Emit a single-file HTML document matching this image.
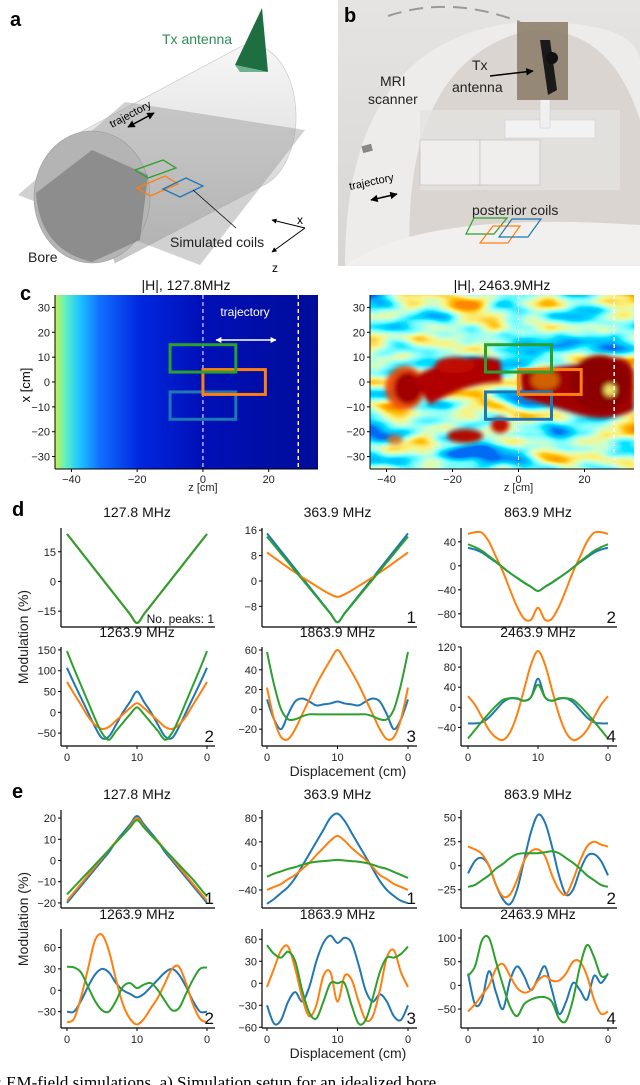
<!DOCTYPE html>
<html><head><meta charset="utf-8">
<style>
html,body{margin:0;padding:0;background:#fff;}
svg{display:block;font-family:"Liberation Sans",sans-serif;}
.tk{font-size:11px;fill:#222;}
.tt{font-size:14px;fill:#111;}
</style></head>
<body>
<svg id="fig" width="640" height="1085" viewBox="0 0 640 1085">
<defs>
  <linearGradient id="lowf" x1="0" y1="0" x2="1" y2="0">
    <stop offset="0" stop-color="#c8f050"/>
    <stop offset="0.04" stop-color="#60f0c0"/>
    <stop offset="0.09" stop-color="#20c8ff"/>
    <stop offset="0.17" stop-color="#1070ff"/>
    <stop offset="0.32" stop-color="#0028e0"/>
    <stop offset="0.55" stop-color="#0010b8"/>
    <stop offset="1" stop-color="#000c98"/>
  </linearGradient>
  <filter id="jet" x="0" y="0" width="100%" height="100%">
    <feTurbulence type="fractalNoise" baseFrequency="0.018 0.045" numOctaves="2" seed="11" result="n"/>
    <feColorMatrix in="n" type="matrix" values="1.8 0 0 0 -0.42  1.8 0 0 0 -0.42  1.8 0 0 0 -0.42  0 0 0 0 1"/>
    <feComponentTransfer>
      <feFuncR type="table" tableValues="0 0 0 0.2 0.6 0.95 1 1"/>
      <feFuncG type="table" tableValues="0.15 0.45 0.8 1 1 0.9 0.55 0.25"/>
      <feFuncB type="table" tableValues="0.9 1 1 1 0.6 0.2 0 0"/>
    </feComponentTransfer>
  </filter>
  <filter id="blur2"><feGaussianBlur stdDeviation="2.5"/></filter>
  <linearGradient id="cyl" x1="0" y1="0" x2="0" y2="1">
    <stop offset="0" stop-color="#f6f6f6"/><stop offset="0.5" stop-color="#e2e2e2"/><stop offset="1" stop-color="#c4c4c4"/>
  </linearGradient>
  <linearGradient id="photo" x1="0" y1="0" x2="0" y2="1">
    <stop offset="0" stop-color="#e6e4e2"/><stop offset="1" stop-color="#d8d6d4"/>
  </linearGradient>
  <marker id="ah" viewBox="0 0 10 10" refX="9" refY="5" markerWidth="5" markerHeight="5" orient="auto-start-reverse"><path d="M0,0 L10,5 L0,10 z" fill="#000"/></marker>
  <marker id="ahw" viewBox="0 0 10 10" refX="9" refY="5" markerWidth="4" markerHeight="4" orient="auto-start-reverse"><path d="M0,0 L10,5 L0,10 z" fill="#fff"/></marker>
  <clipPath id="clipR"><rect x="370" y="295" width="264" height="174"/></clipPath>
</defs>

<!-- Panel a -->
<g>
  <text x="10" y="26" font-size="20" font-weight="bold">a</text>
  <ellipse cx="247" cy="117" rx="44" ry="70" fill="#ececec" stroke="#ccc" stroke-width="0.6"/>
  <path d="M75,135 L240,47 A44,70 0 0 1 262,186 L115,263 Z" fill="url(#cyl)" stroke="#c4c4c4" stroke-width="0.6"/>
  <polygon points="18,195 125,102 305,130 200,265" fill="#9a9a9a" opacity="0.45"/>
  <ellipse cx="92" cy="197" rx="58" ry="66" fill="#b4b4b4" stroke="#999" stroke-width="0.6"/>
  <path d="M36,193 L92,150 L148,175 L140,240 L92,262 Q40,250 36,193 Z" fill="#6e6e6e" opacity="0.55"/>
  <polygon points="135,170 163,160 176,168 148,178" fill="none" stroke="#2ca02c" stroke-width="1.3"/>
  <polygon points="137,188 165,176 178,184 150,196" fill="none" stroke="#ff7f0e" stroke-width="1.3"/>
  <polygon points="163,189 186,178 203,186 180,197" fill="none" stroke="#1f77b4" stroke-width="1.3"/>
  <line x1="193" y1="190" x2="236" y2="228" stroke="#000" stroke-width="0.8"/>
  <polygon points="235,65 262,8 268,72" fill="#1f6e42"/>
  <polygon points="235,65 240,72 268,72" fill="#6fb28f"/>
  <text x="162" y="44" font-size="14" fill="#2e8b57">Tx antenna</text>
  <text x="0" y="0" font-size="11" transform="translate(112,128) rotate(-28)">trajectory</text>
  <line x1="128" y1="127" x2="154" y2="113" stroke="#000" stroke-width="1.5" marker-start="url(#ah)" marker-end="url(#ah)"/>
  <text x="170" y="247" font-size="14" fill="#222">Simulated coils</text>
  <text x="28" y="262" font-size="14" fill="#222">Bore</text>
  <line x1="305" y1="228" x2="272" y2="220" stroke="#000" stroke-width="1" marker-end="url(#ah)"/>
  <line x1="305" y1="228" x2="272" y2="252" stroke="#000" stroke-width="1" marker-end="url(#ah)"/>
  <text x="297" y="224" font-size="12">x</text>
  <text x="272" y="272" font-size="12">z</text>
</g>

<!-- Panel b -->
<g>
  <rect x="338" y="0" width="302" height="266" fill="url(#photo)"/>
  <path d="M345,266 Q345,40 520,22 Q635,20 640,60 L640,266 Z" fill="#eeecea"/>
  <path d="M410,266 Q400,60 530,30 Q610,25 640,120 L640,266 Z" fill="#d2ccc4" opacity="0.7"/>
  <path d="M420,110 L620,110 L620,190 L420,190 Z" fill="#e4e2df" opacity="0.8"/>
  <rect x="420" y="140" width="60" height="45" fill="#efeeec" stroke="#bbb" stroke-width="0.6"/>
  <rect x="480" y="140" width="60" height="45" fill="#efeeec" stroke="#bbb" stroke-width="0.6"/>
  <rect x="505" y="120" width="90" height="18" fill="#f2f2f2" stroke="#ccc" stroke-width="0.5"/>
  <rect x="540" y="98" width="10" height="30" fill="#f0f0f0" stroke="#ccc" stroke-width="0.5"/>
  <rect x="517" y="22" width="51" height="78" fill="#8a7a66" opacity="0.85"/>
  <polygon points="540,40 550,40 557,90 548,95" fill="#1a1a1a"/>
  <circle cx="552" cy="58" r="6" fill="#111"/>
  <path d="M345,266 Q420,210 640,225 L640,266 Z" fill="#f1f0ee"/>
  <path d="M388,16 Q450,-5 520,22" stroke="#999" stroke-width="2" fill="none" stroke-dasharray="14 8"/>
  <rect x="362" y="145" width="10" height="7" fill="#888" transform="rotate(-15 367 148)"/>
  <text x="344" y="22" font-size="20" font-weight="bold">b</text>
  <text x="380" y="86" font-size="14" fill="#222">MRI</text>
  <text x="368" y="104" font-size="14" fill="#222">scanner</text>
  <text x="472" y="70" font-size="14" fill="#222">Tx</text>
  <text x="452" y="92" font-size="14" fill="#222">antenna</text>
  <line x1="490" y1="76" x2="533" y2="71" stroke="#000" stroke-width="1.5" marker-end="url(#ah)"/>
  <text x="0" y="0" font-size="11" transform="translate(350,190) rotate(-12)">trajectory</text>
  <line x1="371" y1="200" x2="397" y2="194" stroke="#000" stroke-width="1.5" marker-start="url(#ah)" marker-end="url(#ah)"/>
  <text x="472" y="215" font-size="14" fill="#222">posterior coils</text>
  <polygon points="474,218 507,218 494,234 466,234" fill="none" stroke="#2ca02c" stroke-width="1.2"/>
  <polygon points="493,226 520,226 508,243 480,243" fill="none" stroke="#ff7f0e" stroke-width="1.2"/>
  <polygon points="512,219 541,219 528,237 499,237" fill="none" stroke="#1f77b4" stroke-width="1.2"/>
</g>

<!-- Panel c -->
<g>
  <text x="20" y="300" font-size="20" font-weight="bold">c</text>
  <text x="186" y="290" text-anchor="middle" class="tt">|H|, 127.8MHz</text>
  <text x="502" y="290" text-anchor="middle" class="tt">|H|, 2463.9MHz</text>
  <rect x="55" y="295" width="263" height="174" fill="url(#lowf)"/>
  <g clip-path="url(#clipR)">
    <rect x="370" y="295" width="264" height="174" filter="url(#jet)"/>
    <g filter="url(#blur2)">
      <ellipse cx="405" cy="388" rx="20" ry="22" fill="#f04000" opacity="0.9"/>
      <ellipse cx="408" cy="388" rx="14" ry="16" fill="#a00000"/>
      <path d="M412,378 Q460,350 500,360 L502,382 Q465,383 430,405 Z" fill="#b00000"/>
      <ellipse cx="455" cy="365" rx="20" ry="8" fill="#c01000"/>
      <path d="M520,372 L595,362 Q628,350 634,372 L634,410 Q605,425 570,412 L522,398 Z" fill="#a00000"/>
      <ellipse cx="600" cy="383" rx="30" ry="28" fill="#8c0000"/>
      <ellipse cx="610" cy="390" rx="6" ry="6" fill="#f0e060"/>
      <ellipse cx="545" cy="380" rx="14" ry="10" fill="#f0a000" opacity="0.6"/>
      <ellipse cx="465" cy="436" rx="18" ry="7" fill="#b00800"/>
      <ellipse cx="500" cy="425" rx="9" ry="8" fill="#c01000"/>
      <ellipse cx="395" cy="440" rx="8" ry="5" fill="#f06000" opacity="0.8"/>
    </g>
  </g>
  <g id="caxes"></g>
</g>

<g id="charts"></g>
</svg>

<script>
// ---------- panel c data ----------
const heatZTicks = [-40, -20, 0, 20];
const heatXTicks = [30, 20, 10, 0, -10, -20, -30];
const coilNames = ['blue', 'orange', 'green'];
const coilZ0 = [-10, 0, -10];
const coilZ1 = [10, 19, 10];
const coilX0 = [-15, -5, 4];
const coilX1 = [-4, 5, 15];
const dashZ = [0, 29];

// ---------- panel d / e data (x = 0..20 cm) ----------
const xs = [0,1,2,3,4,5,6,7,8,9,10,11,12,13,14,15,16,17,18,19,20];
const freqTitles = ['127.8 MHz','363.9 MHz','863.9 MHz','1263.9 MHz','1863.9 MHz','2463.9 MHz'];
const xTickVals = [0, 10, 20];
const xTickLabels = ['0', '10', '0'];
const peaksD = ['No. peaks: 1','1','2','2','3','4'];
const peaksE = ['1','1','2','2','3','4'];

const dTicks = [[15,0,-15],[16,8,0,-8],[40,0,-40,-80],[150,100,50,0,-50],[60,40,20,0,-20],[120,80,40,0,-40]];
const dDomains = [[-23,27],[-14.5,16.7],[-102,63],[-81,157],[-37,63],[-77,120]];
const dBlue = [
 [24,19.5,15,10.5,6,1.5,-3,-7.5,-12,-16.5,-21,-16.5,-12,-7.5,-3,1.5,6,10.5,15,19.5,24],
 [15,12.2,9.4,6.6,3.8,1,-1.8,-4.6,-7.4,-10.2,-13,-10.2,-7.4,-4.6,-1.8,1,3.8,6.6,9.4,12.2,15],
 [30,27,22,14,6,-3,-12,-20,-28,-35,-42,-35,-28,-20,-12,-3,6,14,22,27,30],
 [107,70,35,0,-35,-62,-58,-30,0,25,50,25,0,-30,-58,-62,-35,0,35,70,107],
 [10,-10,-20,-5,8,11,8,4,5,6,8,6,5,4,8,11,8,-5,-20,-10,10],
 [-32,-32,-30,-20,-5,10,18,17,13,20,57,20,13,17,18,10,-5,-20,-30,-32,-32]
];
const dOrange = [
 [24,19.5,15,10.5,6,1.5,-3,-7.5,-12,-16.5,-21,-16.5,-12,-7.5,-3,1.5,6,10.5,15,19.5,24],
 [9,7.4,5.8,4.2,2.7,1.2,-0.2,-1.6,-3,-4.2,-5,-4.2,-3,-1.6,-0.2,1.2,2.7,4.2,5.8,7.4,9],
 [53,56,55,40,15,-10,-40,-68,-88,-90,-70,-90,-88,-68,-40,-10,15,40,55,56,53],
 [73,45,18,-10,-30,-40,-35,-20,-5,10,22,10,-5,-20,-35,-40,-30,-10,18,45,73],
 [22,-10,-28,-30,-20,-5,10,25,38,50,60,50,38,25,10,-5,-20,-30,-28,-10,22],
 [22,5,-20,-45,-60,-65,-50,-15,35,85,112,85,35,-15,-50,-65,-60,-45,-20,5,22]
];
const dGreen = [
 [24,19.5,15,10.5,6,1.5,-3,-7.5,-12,-16.5,-21,-16.5,-12,-7.5,-3,1.5,6,10.5,15,19.5,24],
 [14,11.3,8.6,5.9,3.2,0.5,-2.2,-4.9,-7.6,-10.3,-13,-10.3,-7.6,-4.9,-2.2,0.5,3.2,5.9,8.6,11.3,14],
 [36,31,25,16,7,-3,-12,-20,-28,-35,-42,-35,-28,-20,-12,-3,7,16,25,31,36],
 [147,105,65,25,-15,-50,-66,-45,-25,-5,12,-5,-25,-45,-66,-50,-15,25,65,105,147],
 [58,25,0,-10,-10,-7,-5,-5,-5,-5,-5,-5,-5,-5,-5,-7,-10,-10,0,25,58],
 [-62,-45,-28,-12,3,15,18,18,13,20,45,20,13,18,18,15,3,-12,-28,-45,-62]
];

const eTicks = [[20,10,0,-10,-20],[80,40,0,-40],[50,25,0,-25],[60,30,0,-30],[60,30,0,-30,-60],[100,50,0,-50]];
const eDomains = [[-22.4,23.8],[-70,93],[-44,58],[-53,86],[-61,74],[-90,119]];
const eBlue = [
 [-20,-16,-12,-8,-4,0,4,9,13,17,21,17,13,9,4,0,-4,-8,-12,-16,-20],
 [-63,-55,-45,-35,-20,0,20,40,60,80,87,75,55,35,15,-5,-25,-40,-50,-58,-62],
 [-8,5,8,0,-20,-35,-40,-25,5,35,53,45,20,-10,-30,-25,-5,10,12,5,-10],
 [-30,-30,-15,5,22,30,25,10,0,-5,-10,-5,5,15,25,30,22,5,-15,-30,-30],
 [-30,-55,-50,-25,-12,-25,-5,30,55,65,55,62,55,25,-10,-25,-15,-25,-45,-50,-30],
 [25,-40,-30,30,-15,-50,10,40,20,-10,15,40,-10,-60,-35,5,-10,-30,20,5,25]
];
const eOrange = [
 [-19,-15,-11,-7,-3,1,5,9,12,16,20,16,12,9,5,1,-3,-7,-11,-15,-19],
 [-40,-35,-30,-22,-15,-5,5,18,30,42,50,42,30,20,10,-2,-15,-22,-30,-35,-40],
 [20,17,12,0,-20,-32,-30,-15,5,15,17,10,-10,-25,-30,-15,5,20,25,22,20],
 [-45,-40,-10,30,70,78,55,15,-20,-40,-48,-40,-25,-10,10,30,33,10,-20,-40,-45],
 [-5,20,45,50,20,-20,-45,-30,10,15,-25,10,5,-25,-50,-45,-10,35,45,15,-5],
 [-55,-40,-20,0,35,45,20,-5,-15,-10,10,20,10,10,25,50,50,20,-30,-60,-55]
];
const eGreen = [
 [-16,-12.5,-9,-5.5,-2,1.5,5,8.5,12,15.5,19,15.5,12,8.5,5,1.5,-2,-5.5,-9,-13,-17],
 [-18,-13,-9,-5,-2,2,5,7,8,9,10,9,8,7,5,2,-2,-5,-10,-15,-20],
 [-22,-20,-15,-10,-3,2,8,12,13,13,13,14,15,13,8,3,-3,-10,-15,-20,-22],
 [33,32,25,5,-15,-28,-30,-15,5,10,3,8,10,0,-15,-28,-25,-5,15,30,32],
 [52,40,35,43,30,-10,-40,-48,-25,0,0,0,-30,-55,-50,-20,15,35,35,40,50],
 [20,40,95,100,50,0,-45,-65,-40,-30,-25,-25,-35,-70,-75,-30,40,85,60,20,22]
];

const NS = 'http://www.w3.org/2000/svg';
const COLORS = {blue:'#1f77b4', orange:'#ff7f0e', green:'#2ca02c'};
function mk(tag, attrs, parent) {
  const el = document.createElementNS(NS, tag);
  for (const k in attrs) el.setAttribute(k, attrs[k]);
  parent.appendChild(el);
  return el;
}

// ---------- panel c axes ----------
(function(){
  const g = document.getElementById('caxes');
  const maps = [{x0:55,x1:318,name:'left'},{x0:370,x1:634,name:'right'}];
  const zDom=[-45,35], xDom=[-35,35], top=295, bot=469;
  maps.forEach(m => {
    const zx = z => m.x0 + (z - zDom[0]) / (zDom[1]-zDom[0]) * (m.x1 - m.x0);
    const xy = x => bot - (x - xDom[0]) / (xDom[1]-xDom[0]) * (bot - top);
    dashZ.forEach((z,i) => {
      const l = mk('line', {x1:zx(z), x2:zx(z), y1:top, y2:bot, stroke:'#fff', 'stroke-width': i===0?1:1.4, 'stroke-dasharray':'4 3'}, g);
      
      
    });
    coilNames.forEach((c,i) => {
      const r = mk('rect', {x:zx(coilZ0[i]), y:xy(coilX1[i]), width:zx(coilZ1[i])-zx(coilZ0[i]), height:xy(coilX0[i])-xy(coilX1[i]), fill:'none', stroke:COLORS[c], 'stroke-width':3}, g);
      
      
    });
    mk('line',{x1:m.x0,x2:m.x1,y1:bot,y2:bot,stroke:'#000','stroke-width':1},g);
    mk('line',{x1:m.x0,x2:m.x0,y1:top,y2:bot,stroke:'#000','stroke-width':1},g);
    heatZTicks.forEach(z => {
      mk('line',{x1:zx(z),x2:zx(z),y1:bot,y2:bot+3,stroke:'#000'},g);
      const t = mk('text',{x:zx(z),y:bot+14,'text-anchor':'middle',class:'tk'},g);
      t.textContent = z < 0 ? '\u2212' + (-z) : String(z);
      
      
    });
    heatXTicks.forEach(x => {
      mk('line',{x1:m.x0-3,x2:m.x0,y1:xy(x),y2:xy(x),stroke:'#000'},g);
      const t = mk('text',{x:m.x0-5,y:xy(x)+4,'text-anchor':'end',class:'tk'},g);
      t.textContent = x < 0 ? '\u2212' + (-x) : String(x);
      
      
    });
    const zl = mk('text',{x:zx(0),y:bot+22,'text-anchor':'middle',class:'tk','font-size':12},g);
    zl.textContent = 'z [cm]';
    
    
  });
  const yl = mk('text',{x:0,y:0,transform:'translate(30,385) rotate(-90)','text-anchor':'middle','font-size':13},g);
  yl.textContent = 'x [cm]';
  
  
  const tr = mk('text',{x:245,y:316,'text-anchor':'middle','font-size':12,fill:'#fff'},g);
  tr.textContent = 'trajectory';
  
  
  const ar = mk('line',{x1:216,x2:276,y1:340,y2:340,stroke:'#fff','stroke-width':1.5,'marker-start':'url(#ahw)','marker-end':'url(#ahw)'},g);
  
  
})();

// ---------- panels d, e ----------
function smoothPath(pts){
  let d = 'M' + pts[0][0].toFixed(2) + ',' + pts[0][1].toFixed(2);
  for (let i=0;i<pts.length-1;i++){
    const p0 = pts[Math.max(0,i-1)], p1 = pts[i], p2 = pts[i+1], p3 = pts[Math.min(pts.length-1,i+2)];
    const c1x = p1[0] + (p2[0]-p0[0])/6, c1y = p1[1] + (p2[1]-p0[1])/6;
    const c2x = p2[0] - (p3[0]-p1[0])/6, c2y = p2[1] - (p3[1]-p1[1])/6;
    d += 'C' + c1x.toFixed(2)+','+c1y.toFixed(2)+' '+c2x.toFixed(2)+','+c2y.toFixed(2)+' '+p2[0].toFixed(2)+','+p2[1].toFixed(2);
  }
  return d;
}
const colLeft = [61, 262, 461];
const colX0 = [67, 267, 468];
const colX1 = [207, 408, 608];
const colRight = [215, 417, 617];

function drawGrid(prefix, rows, ticks, domains, blue, orange, green, peaks, tickY, dispY) {
  const root = document.getElementById('charts');
  const grp = mk('g', {}, root);
  
  
  for (let k=0;k<6;k++){
    const r = Math.floor(k/3), c = k%3;
    const top = rows[r][0], bot = rows[r][1];
    const g = mk('g', {}, grp);
    
    
    const dom = domains[k];
    const X = x => colX0[c] + (x - 0) / 20 * (colX1[c] - colX0[c]);
    const Y = v => bot - (v - dom[0]) / (dom[1]-dom[0]) * (bot - top);
    const title = mk('text', {x:(colX0[c]+colX1[c])/2, y:top-11+ (r===0? 0:1), 'text-anchor':'middle', class:'tt'}, g);
    title.textContent = freqTitles[k];
    
    
    [['blue',blue],['orange',orange],['green',green]].forEach(([nm, arr]) => {
      const pts = xs.map((x,i) => [X(x), Y(arr[k][i])]);
      const p = mk('path', {d:smoothPath(pts), fill:'none', stroke:COLORS[nm], 'stroke-width':2, 'stroke-linejoin':'round'}, g);
      
      
    });
    mk('line', {x1:colLeft[c], x2:colLeft[c], y1:top, y2:bot, stroke:'#000', 'stroke-width':1.2}, g);
    mk('line', {x1:colLeft[c], x2:colRight[c], y1:bot, y2:bot, stroke:'#000', 'stroke-width':1.2}, g);
    ticks[k].forEach(v => {
      mk('line', {x1:colLeft[c]-3, x2:colLeft[c], y1:Y(v), y2:Y(v), stroke:'#000'}, g);
      const t = mk('text', {x:colLeft[c]-5, y:Y(v)+4, 'text-anchor':'end', class:'tk'}, g);
      t.textContent = v < 0 ? '\u2212' + (-v) : String(v);
      
      
    });
    if (r === 1) {
      xTickVals.forEach((v,i) => {
        mk('line', {x1:X(v), x2:X(v), y1:bot, y2:bot+3, stroke:'#000'}, g);
        const t = mk('text', {x:X(v), y:tickY, 'text-anchor':'middle', class:'tk'}, g);
        t.textContent = xTickLabels[i];
        
        
      });
    }
    const pk = mk('text', {x:colRight[c]-1, y:bot-4, 'text-anchor':'end', 'font-size': peaks[k].length>2 ? 12 : 17, fill:'#111'}, g);
    pk.textContent = peaks[k];
    
    
  }
  const dl = mk('text', {x:348, y:dispY, 'text-anchor':'middle', 'font-size':14, fill:'#222'}, grp);
  dl.textContent = 'Displacement (cm)';
  
  
  const ml = mk('text', {x:0, y:0, transform:'translate(28,' + ((rows[0][0]+rows[1][1])/2) + ') rotate(-90)', 'text-anchor':'middle', 'font-size':14, fill:'#222'}, grp);
  ml.textContent = 'Modulation (%)';
  
  
  const lab = mk('text', {x:12, y:rows[0][0]-12, 'font-size':20, 'font-weight':'bold'}, grp);
  lab.textContent = prefix;
  
  
}
drawGrid('d', [[528,627],[647,746]], dTicks, dDomains, dBlue, dOrange, dGreen, peaksD, 761, 776);
drawGrid('e', [[810,908],[929,1028]], eTicks, eDomains, eBlue, eOrange, eGreen, peaksE, 1043, 1058);

const cap = document.createElementNS(NS, 'text');
cap.setAttribute('x', '-60');
cap.setAttribute('y', '1088');
cap.setAttribute('font-size', '17');
cap.setAttribute('font-family', '"Liberation Serif", serif');


cap.textContent = 'Figure 4: EM-field simulations. a) Simulation setup for an idealized bore';
document.getElementById('fig').appendChild(cap);
</script>
</body></html>
